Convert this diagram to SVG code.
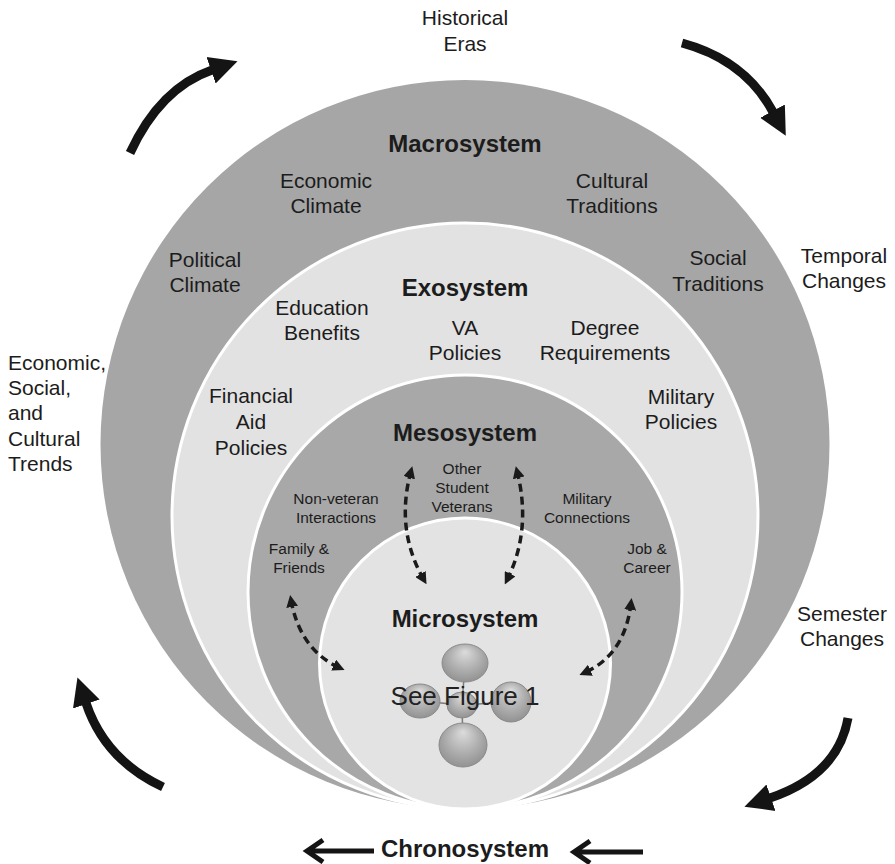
<svg xmlns="http://www.w3.org/2000/svg" width="895" height="864" viewBox="0 0 895 864">
<defs>
<style>
text{font-family:"Liberation Sans",Arial,Helvetica,sans-serif;fill:#1c1c1c}
.lbl{font-size:21px;text-anchor:middle}
.sm{font-size:15.5px;text-anchor:middle}
.ttl{font-size:24px;font-weight:bold;text-anchor:middle}
.left{font-size:21px}
.ring{stroke:#ffffff;stroke-width:3}
.big{fill:none;stroke:#141414;stroke-width:9;stroke-linecap:butt}
.dash{fill:none;stroke:#1a1a1a;stroke-width:3.5;stroke-dasharray:8 5}
.chev{fill:none;stroke:#141414;stroke-width:5}
.ball{stroke:#8a8a8a;stroke-width:1}
</style>
<marker id="bighead" markerUnits="userSpaceOnUse" markerWidth="30" markerHeight="30" refX="1" refY="15" orient="auto" viewBox="0 0 30 30">
<path d="M0,1 L28,15 L0,29 z" fill="#141414"/>
</marker>
<marker id="dhead" markerUnits="userSpaceOnUse" markerWidth="12" markerHeight="12" refX="7" refY="6" orient="auto-start-reverse" viewBox="0 0 12 12">
<path d="M0,0 L12,6 L0,12 z" fill="#1a1a1a"/>
</marker>
<radialGradient id="ballg" cx="50%" cy="45%" r="60%" fx="50%" fy="20%">
<stop offset="0" stop-color="#dcdcdc"/>
<stop offset="0.55" stop-color="#b0b0b0"/>
<stop offset="1" stop-color="#8e8e8e"/>
</radialGradient>
</defs>

<g id="macrosystem">
<circle cx="465" cy="444.5" r="364.5" fill="#a6a6a6"/>
<text class="ttl" x="465" y="152">Macrosystem</text>
<text class="lbl" x="326" y="188">Economic</text>
<text class="lbl" x="326" y="213">Climate</text>
<text class="lbl" x="612" y="188">Cultural</text>
<text class="lbl" x="612" y="213">Traditions</text>
<text class="lbl" x="205" y="267">Political</text>
<text class="lbl" x="205" y="292">Climate</text>
<text class="lbl" x="718" y="265">Social</text>
<text class="lbl" x="718" y="291">Traditions</text>
</g>

<g id="exosystem">
<circle class="ring" cx="465" cy="516" r="293" fill="#e2e2e2"/>
<text class="ttl" x="465" y="296">Exosystem</text>
<text class="lbl" x="322" y="315">Education</text>
<text class="lbl" x="322" y="340">Benefits</text>
<text class="lbl" x="465" y="335">VA</text>
<text class="lbl" x="465" y="360">Policies</text>
<text class="lbl" x="605" y="335">Degree</text>
<text class="lbl" x="605" y="360">Requirements</text>
<text class="lbl" x="251" y="403">Financial</text>
<text class="lbl" x="251" y="429">Aid</text>
<text class="lbl" x="251" y="455">Policies</text>
<text class="lbl" x="681" y="404">Military</text>
<text class="lbl" x="681" y="429">Policies</text>
</g>

<g id="mesosystem">
<circle class="ring" cx="465" cy="592" r="217" fill="#a8a8a8"/>
<text class="ttl" x="465" y="441">Mesosystem</text>
<text class="sm" x="462" y="474">Other</text>
<text class="sm" x="462" y="493">Student</text>
<text class="sm" x="462" y="512">Veterans</text>
<text class="sm" x="336" y="504">Non-veteran</text>
<text class="sm" x="336" y="523">Interactions</text>
<text class="sm" x="587" y="504">Military</text>
<text class="sm" x="587" y="523">Connections</text>
<text class="sm" x="299" y="554">Family &amp;</text>
<text class="sm" x="299" y="573">Friends</text>
<text class="sm" x="647" y="554">Job &amp;</text>
<text class="sm" x="647" y="573">Career</text>
</g>

<g id="microsystem">
<circle class="ring" cx="465" cy="663.5" r="145.5" fill="#e3e3e3"/>
<text class="ttl" x="465" y="627">Microsystem</text>
<g id="figure1-icon">
<line x1="462" y1="705" x2="420" y2="701" stroke="#7a7a7a" stroke-width="1.5"/>
<line x1="462" y1="705" x2="511" y2="702" stroke="#7a7a7a" stroke-width="1.5"/>
<line x1="462" y1="705" x2="465" y2="663" stroke="#7a7a7a" stroke-width="1.5"/>
<line x1="462" y1="705" x2="463" y2="745" stroke="#7a7a7a" stroke-width="1.5"/>
<ellipse class="ball" cx="465" cy="663" rx="23" ry="19" fill="url(#ballg)"/>
<ellipse class="ball" cx="420" cy="701" rx="20" ry="17" fill="url(#ballg)"/>
<ellipse class="ball" cx="511" cy="702" rx="20" ry="20" fill="url(#ballg)"/>
<ellipse class="ball" cx="462" cy="705" rx="15" ry="13" fill="url(#ballg)"/>
<ellipse class="ball" cx="463" cy="745" rx="24" ry="22" fill="url(#ballg)"/>
</g>
<text x="465" y="705" style="font-size:26px;text-anchor:middle;fill:#222">See Figure 1</text>
</g>

<g id="chronosystem">
<text class="ttl" x="465" y="857">Chronosystem</text>
<text class="lbl" x="465" y="25">Historical</text>
<text class="lbl" x="465" y="51">Eras</text>
<text class="lbl" x="844" y="263">Temporal</text>
<text class="lbl" x="844" y="288">Changes</text>
<text class="lbl" x="842" y="621">Semester</text>
<text class="lbl" x="842" y="646">Changes</text>
<text class="left" x="8" y="370">Economic,</text>
<text class="left" x="8" y="395">Social,</text>
<text class="left" x="8" y="420">and</text>
<text class="left" x="8" y="446">Cultural</text>
<text class="left" x="8" y="471">Trends</text>
</g>

<g id="connectors">
<path class="big" d="M130,153 Q160,88 212,70" marker-end="url(#bighead)"/>
<path class="big" d="M682,43 Q745,60 773,112" marker-end="url(#bighead)"/>
<path class="big" d="M163,787 Q105,760 86,703" marker-end="url(#bighead)"/>
<path class="big" d="M848,718 Q838,775 770,798" marker-end="url(#bighead)"/>
<path class="dash" d="M411,471 Q395,530 424,580" marker-start="url(#dhead)" marker-end="url(#dhead)"/>
<path class="dash" d="M517,471 Q532,530 507,580" marker-start="url(#dhead)" marker-end="url(#dhead)"/>
<path class="dash" d="M291,600 Q300,650 340,668" marker-start="url(#dhead)" marker-end="url(#dhead)"/>
<path class="dash" d="M631,603 Q625,655 584,673" marker-start="url(#dhead)" marker-end="url(#dhead)"/>
<path class="chev" d="M374,851 L308,851 M323,840 L307,851 L323,862"/>
<path class="chev" d="M643,852 L575,852 M590,841 L574,852 L590,863"/>
</g>
</svg>
